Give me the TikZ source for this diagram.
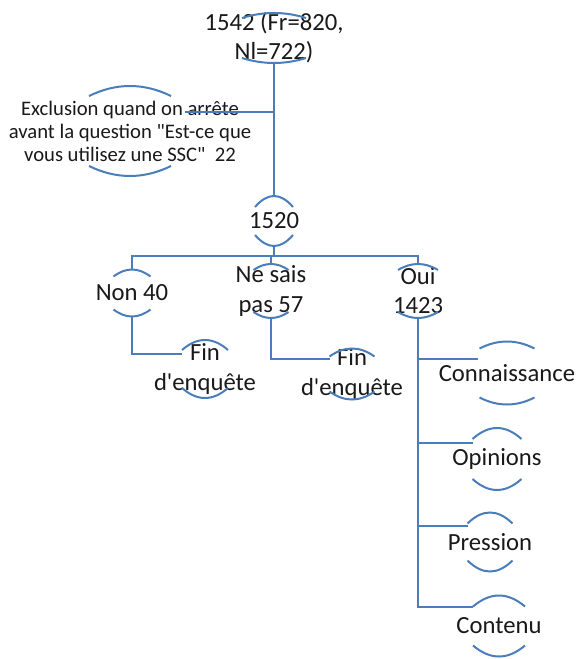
\documentclass[tikz,border=0pt]{standalone}
\usepackage{fontspec}
\setmainfont{Carlito}
\definecolor{linkblue}{RGB}{74,126,187}
\tikzstyle{every node}=[align=center, text=black!90, font=\fontsize{18.5}{21.8}\selectfont]
\tikzstyle{small}=[font=\fontsize{15.5}{17.3}\selectfont]
% arcs above and below a node: name, half width, offset of the ends, sagitta
\newcommand{\brackets}[4]{%
  \draw ([shift={(-#2,-#3)}]#1.center) .. controls ([shift={(-#2/3,-#3-4*#4/3)}]#1.center) and ([shift={(#2/3,-#3-4*#4/3)}]#1.center) .. ([shift={(#2,-#3)}]#1.center);
  \draw ([shift={(-#2,#3)}]#1.center) .. controls ([shift={(-#2/3,#3+4*#4/3)}]#1.center) and ([shift={(#2/3,#3+4*#4/3)}]#1.center) .. ([shift={(#2,#3)}]#1.center);
  \coordinate (#1-t) at ([shift={(0,-#3-#4)}]#1.center);
  \coordinate (#1-b) at ([shift={(0,#3+#4)}]#1.center);
  \coordinate (#1-l) at ([shift={(-#2,-#3)}]#1.center);
}

\begin{document}
\begin{tikzpicture}[x=0.75pt, y=-0.75pt, line width=1.5pt, linkblue]
\useasboundingbox (0,0) rectangle (582,659);
% Boxes
    \node (top) at (274,38) {1542 (Fr=820,\\Nl=722)};
    \node[small] (excl) at (130,131) {Exclusion quand on arrête\\avant la question \textquotedbl Est-ce que\\vous utilisez une SSC\textquotedbl~~22};
    \node (n1520) at (274,221) {1520};
    \node (non) at (132,293) {Non 40};
    \node (nesais) at (271,291) {Ne sais\\pas 57};
    \node (oui) at (418,291) {Oui\\1423};
    \node (fin1) at (205,369) {Fin\\d\textquotesingle enquête};
    \node (fin2) at (352,374) {Fin\\d\textquotesingle enquête};
    \node (conn) at (507,373) {Connaissance};
    \node (opin) at (497,459) {Opinions};
    \node (pres) at (490,542) {Pression};
    \node (cont) at (499,626) {Contenu};
% Brackets
    \brackets{top}{32}{20}{5}
    \brackets{excl}{41}{35}{10}
    \brackets{n1520}{19}{14}{11}
    \brackets{non}{18.5}{16.5}{7}
    \brackets{nesais}{17.5}{21}{6}
    \brackets{oui}{20}{21}{6}
    \brackets{fin1}{23}{19}{10}
    \brackets{fin2}{22.5}{17.5}{8}
    \brackets{conn}{27.5}{24.5}{7}
    \brackets{opin}{24.5}{20}{11}
    \brackets{pres}{22.5}{18.5}{11}
    \brackets{cont}{26}{19.5}{11}
% Links
    \draw (top-b) -- (n1520-t);
    \coordinate (exclend) at (185,112);
    \draw (exclend) -- (exclend -| top-b);
    \draw (n1520-b) -- ++(0,10) coordinate (bus);
    \draw (non-t) |- (bus) -| (oui-t);
    \draw (nesais-t) -- (nesais-t |- bus);
    \draw (non-b) |- ([shift={(0,4)}]fin1-l);
    \draw (nesais-b) |- ([shift={(0,2)}]fin2-l);
    \draw (oui-b) |- ([shift={(-2,10)}]conn-l);
    \draw (oui-b) |- ([shift={(0,4)}]opin-l);
    \draw (oui-b) |- ([shift={(0,2)}]pres-l);
    \draw (oui-b) |- (cont-l);
\end{tikzpicture}
\end{document}
